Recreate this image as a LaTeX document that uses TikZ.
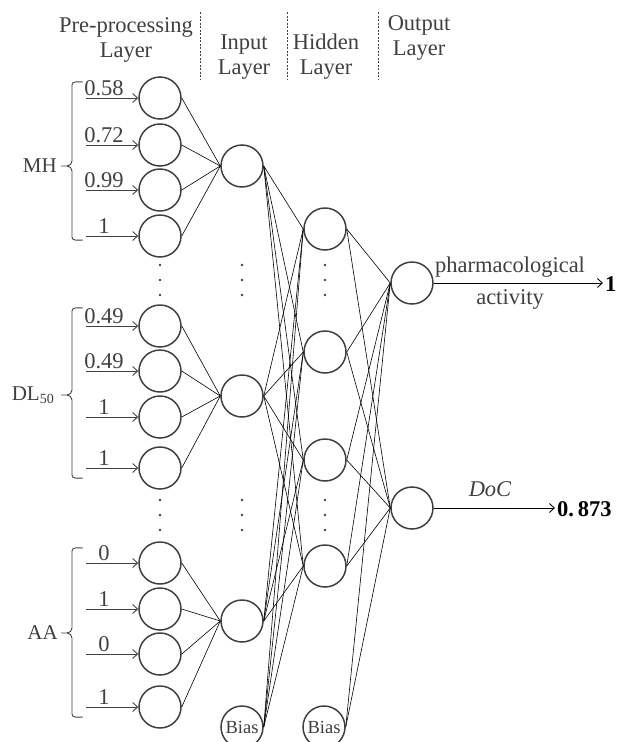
\documentclass[tikz,border=0pt]{standalone}
\usepackage{fontspec}
\setmainfont{Liberation Serif}
\usetikzlibrary{arrows.meta}
\definecolor{tg}{RGB}{64,64,64}
\begin{document}
\begin{tikzpicture}[x=1pt,y=-1pt,
  neuron/.style={circle,draw=tg,line width=1.5pt,minimum size=42pt,inner sep=0pt},
  conn/.style={line width=0.6pt,black},
  inarrow/.style={line width=0.9pt,draw=tg,-{Straight Barb[length=5pt,width=9pt]}},
  lbl/.style={text=tg,font=\fontsize{22.5}{25}\selectfont,inner sep=0pt},
  side/.style={text=tg,font=\fontsize{21}{24}\selectfont,inner sep=0pt},
  sep/.style={draw=tg,line width=0.6pt,dash pattern=on 2pt off 1.5pt},
  brace/.style={draw=tg,line width=0.9pt},
  vdot/.style={circle,fill=tg,inner sep=0pt,minimum size=2.6pt}
]
\useasboundingbox (0,0) rectangle (617,742);

% headers
\node[lbl,align=center] (hpre) at (126,40) {Pre-processing\\Layer};
\node[lbl,align=center] (hin) at (244,57) {Input\\Layer};
\node[lbl,align=center] (hhid) at (326,57) {Hidden\\Layer};
\node[lbl,align=center] (hout) at (419,38) {Output\\Layer};
\draw[sep] (200,12) -- (200,80);
\draw[sep] (287,12) -- (287,80);
\draw[sep] (378,12) -- (378,80);

% pre-processing nodes
\foreach \n/\y/\v in {1/98/0.58,2/145/0.72,3/190/0.99,4/236/1,
                      5/326/0.49,6/371/0.49,7/417/1,8/468/1,
                      9/563/0,10/609/1,11/654/0,12/707/1}{
  \node[neuron] (p\n) at (160,\y) {};
  \coordinate (s\n) at (86,\y);
  \draw[inarrow] (s\n) -- (p\n.west);
  \node[lbl,anchor=base] (v\n) at (104,\y-2.5) {\v};
}

% input nodes
\node[neuron] (i1) at (242,166) {};
\node[neuron] (i2) at (242,396) {};
\node[neuron] (i3) at (242,621) {};
\node[neuron,text=tg,font=\fontsize{18.5}{20}\selectfont] (ib) at (242,727) {Bias};

% hidden nodes
\node[neuron] (h1) at (325,229) {};
\node[neuron] (h2) at (325,352) {};
\node[neuron] (h3) at (325,460) {};
\node[neuron] (h4) at (325,566) {};
\node[neuron,text=tg,font=\fontsize{18.5}{20}\selectfont] (hb) at (324,727) {Bias};

% output nodes
\node[neuron] (o1) at (412,283) {};
\node[neuron] (o2) at (412,508) {};

% dots
\foreach \x in {160,242,325}{
  \foreach \y in {265,280,295,500,515,530}{
    \node[vdot] at (\x,\y) {};
  }
}

% braces and side labels
\foreach \t/\m/\b in {82/166/240, 308/395/478, 548/633/717}{
  \draw[brace] (83,\t) to[out=180,in=90] (72,\t+3) -- (72,\m-5) to[out=-90,in=0] (67,\m) -- (61,\m);
  \draw[brace] (67,\m) to[out=0,in=90] (72,\m+5) -- (72,\b-3) to[out=-90,in=180] (83,\b);
}
\node[side,anchor=east] (mh) at (57,166) {MH};
\node[side,anchor=east] (dl) at (54,395) {DL\raisebox{-3pt}{\fontsize{14}{14}\selectfont 50}};
\node[side,anchor=east] (aa) at (58,633) {AA};

% pre -> input
\foreach \n in {1,2,3,4}{\draw[conn] (p\n.east) -- (i1.west);}
\foreach \n in {5,6,7,8}{\draw[conn] (p\n.east) -- (i2.west);}
\foreach \n in {9,10,11,12}{\draw[conn] (p\n.east) -- (i3.west);}

% input -> hidden
\foreach \a in {i1,i2,i3,ib}{
  \foreach \b in {h1,h2,h3,h4}{
    \draw[conn] (\a.east) -- (\b.west);
  }
}
% hidden -> output
\foreach \a in {h1,h2,h3,h4,hb}{
  \foreach \b in {o1,o2}{
    \draw[conn] (\a.east) -- (\b.west);
  }
}

% outputs
\coordinate (e1) at (603,283);
\coordinate (e2) at (555,508);
\draw[inarrow,draw=black] (o1.east) -- (e1);
\draw[inarrow,draw=black] (o2.east) -- (e2);
\node[lbl] (pa) at (510,267) {pharmacological};
\node[lbl] (act) at (510,299) {activity};
\node[lbl,font=\fontsize{22.5}{25}\selectfont\itshape] (doc) at (490,489) {DoC};
\node[lbl,anchor=west,text=black,font=\fontsize{22.5}{25}\selectfont\bfseries] (r1) at (605,284) {1};
\node[lbl,anchor=west,text=black,font=\fontsize{22.5}{25}\selectfont\bfseries] (r2) at (557,509) {0.\,873};
\end{tikzpicture}
\end{document}
